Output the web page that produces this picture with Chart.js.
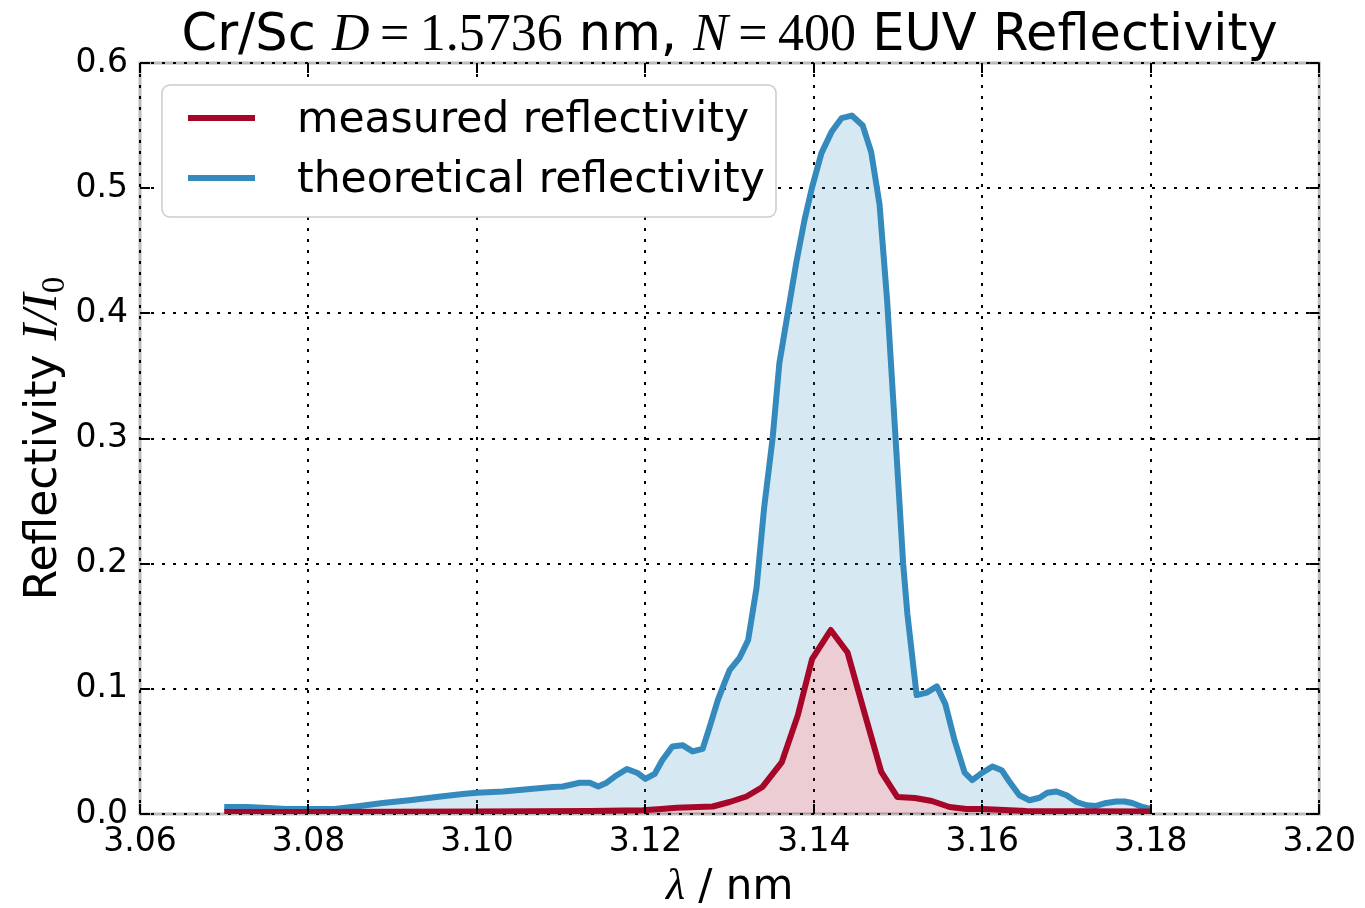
<!DOCTYPE html>
<html lang="en">
<head>
<meta charset="UTF-8">
<title>Cr/Sc EUV Reflectivity</title>
<script src="https://cdn.jsdelivr.net/npm/chart.js"></script>
<style>
  html, body { margin: 0; padding: 0; background: #fff; }
  #wrap { width: 1365px; height: 908px; position: relative; }
</style>
</head>
<body>
<div id="wrap"><canvas id="chart"></canvas></div>
<script>
// wavelength (nm) and reflectivity I/I0
const measuredLambda = [3.0700, 3.0802, 3.1000, 3.1134, 3.1197, 3.1219, 3.1237, 3.1280, 3.1300, 3.1320,
  3.1339, 3.1362, 3.1381, 3.1398, 3.1420, 3.1440, 3.1460, 3.1480, 3.1499, 3.1520,
  3.1540, 3.1561, 3.1581, 3.1600, 3.1652, 3.1712, 3.1800];
const measuredR = [0.0016, 0.0016, 0.0020, 0.0024, 0.0030, 0.0040, 0.0050, 0.0060, 0.0096, 0.0140,
  0.0216, 0.0415, 0.0790, 0.1240, 0.1470, 0.1290, 0.0810, 0.0336, 0.0136, 0.0128,
  0.0104, 0.0056, 0.0040, 0.0040, 0.0024, 0.0022, 0.0020];

const theoryLambda = [3.0700, 3.0727, 3.0746, 3.0774, 3.0802, 3.0831, 3.0861, 3.0888, 3.0920, 3.0952,
  3.0983, 3.1000, 3.1031, 3.1063, 3.1090, 3.1102, 3.1122, 3.1134, 3.1144, 3.1154,
  3.1166, 3.1178, 3.1190, 3.1200, 3.1211, 3.1220, 3.1232, 3.1244, 3.1256, 3.1268,
  3.1276, 3.1286, 3.1294, 3.1300, 3.1312, 3.1322, 3.1332, 3.1341, 3.1351, 3.1359,
  3.1369, 3.1379, 3.1389, 3.1398, 3.1409, 3.1421, 3.1433, 3.1445, 3.1458, 3.1468,
  3.1478, 3.1487, 3.1497, 3.1506, 3.1511, 3.1522, 3.1534, 3.1546, 3.1556, 3.1567,
  3.1579, 3.1588, 3.1600, 3.1612, 3.1623, 3.1632, 3.1644, 3.1656, 3.1668, 3.1677,
  3.1688, 3.1700, 3.1712, 3.1724, 3.1735, 3.1747, 3.1759, 3.1769, 3.1778, 3.1790,
  3.1800];
const theoryR = [0.0056, 0.0056, 0.0050, 0.0040, 0.0040, 0.0040, 0.0064, 0.0088, 0.0110, 0.0136,
  0.0160, 0.0170, 0.0180, 0.0200, 0.0216, 0.0220, 0.0250, 0.0250, 0.0220, 0.0250,
  0.0310, 0.0360, 0.0330, 0.0280, 0.0320, 0.0430, 0.0540, 0.0550, 0.0500, 0.0520,
  0.0690, 0.0910, 0.1050, 0.1150, 0.1250, 0.1390, 0.1810, 0.2450, 0.3000, 0.3600,
  0.4000, 0.4400, 0.4750, 0.5010, 0.5280, 0.5450, 0.5560, 0.5580, 0.5500, 0.5290,
  0.4870, 0.4100, 0.3000, 0.2000, 0.1600, 0.0950, 0.0970, 0.1020, 0.0880, 0.0590,
  0.0330, 0.0270, 0.0330, 0.0380, 0.0350, 0.0260, 0.0150, 0.0110, 0.0130, 0.0170,
  0.0180, 0.0150, 0.0096, 0.0070, 0.0064, 0.0088, 0.0100, 0.0100, 0.0088, 0.0056,
  0.0040];

const xTickValues = [3.06, 3.08, 3.10, 3.12, 3.14, 3.16, 3.18, 3.20];
const xTickLabels = ['3.06', '3.08', '3.10', '3.12', '3.14', '3.16', '3.18', '3.20'];
const yTickValues = [0.0, 0.1, 0.2, 0.3, 0.4, 0.5, 0.6];
const yTickLabels = ['0.0', '0.1', '0.2', '0.3', '0.4', '0.5', '0.6'];

const seriesNames = ['measured reflectivity', 'theoretical reflectivity'];

const RED = '#A60628';
const BLUE = '#348ABD';
const SANS = '"DejaVu Sans", sans-serif';
const SERIF = '"Liberation Serif", "DejaVu Serif", serif';
const LINE_W = 6;

function toPoints(xs, ys) {
  return xs.map((x, i) => ({ x: x, y: ys[i] }));
}

// draw a row of differently styled text pieces on one baseline
function drawRuns(ctx, runs, x, y, align) {
  let total = 0;
  runs.forEach(r => { ctx.font = r.font; r.w = ctx.measureText(r.text).width; total += r.w; });
  let cx = align === 'center' ? x - total / 2 : x;
  runs.forEach(r => {
    ctx.font = r.font;
    ctx.fillText(r.text, cx, y + (r.dy || 0));
    cx += r.w;
  });
}

const framePlugin = {
  id: 'frame',
  beforeDraw(chart) {
    const { ctx, chartArea: a } = chart;
    ctx.save();
    ctx.fillStyle = '#fff';
    ctx.fillRect(0, 0, chart.width, chart.height);
    ctx.strokeStyle = '#bcbcbc';
    ctx.lineWidth = 3;
    ctx.strokeRect(a.left, a.top, a.right - a.left, a.bottom - a.top);
    ctx.restore();
  },
  afterDatasetsDraw(chart) {
    const { ctx, chartArea: a, scales } = chart;
    ctx.save();
    // inward ticks on all four sides
    ctx.strokeStyle = '#000';
    ctx.lineWidth = 2;
    const len = 10;
    ctx.beginPath();
    scales.x.ticks.forEach(t => {
      const px = Math.round(scales.x.getPixelForValue(t.value));
      ctx.moveTo(px, a.bottom); ctx.lineTo(px, a.bottom - len);
      ctx.moveTo(px, a.top); ctx.lineTo(px, a.top + len);
    });
    scales.y.ticks.forEach(t => {
      const py = Math.round(scales.y.getPixelForValue(t.value));
      ctx.moveTo(a.left, py); ctx.lineTo(a.left + len, py);
      ctx.moveTo(a.right, py); ctx.lineTo(a.right - len, py);
    });
    ctx.stroke();
    ctx.restore();
  },
  afterDraw(chart) {
    const { ctx, chartArea: a } = chart;
    const midX = (a.left + a.right) / 2;
    const midY = (a.top + a.bottom) / 2;
    ctx.save();
    ctx.fillStyle = '#000';
    ctx.textBaseline = 'alphabetic';

    // title
    drawRuns(ctx, [
      { text: 'Cr/Sc ', font: '51px ' + SANS },
      { text: 'D', font: 'italic 52px ' + SERIF },
      { text: '\u2009=\u2009', font: '52px ' + SERIF },
      { text: '1.5736', font: '52px ' + SERIF },
      { text: ' nm, ', font: '51px ' + SANS },
      { text: 'N', font: 'italic 52px ' + SERIF },
      { text: '\u2009=\u2009', font: '52px ' + SERIF },
      { text: '400', font: '52px ' + SERIF },
      { text: ' EUV Reflectivity', font: '51px ' + SANS }
    ], midX, 50, 'center');

    // x axis label
    drawRuns(ctx, [
      { text: '\u03bb', font: 'italic 44px ' + SERIF },
      { text: ' / nm', font: '42px ' + SANS }
    ], midX, 899, 'center');

    // y axis label
    ctx.save();
    ctx.translate(56, midY);
    ctx.rotate(-Math.PI / 2);
    drawRuns(ctx, [
      { text: 'Reflectivity ', font: '44px ' + SANS },
      { text: 'I/I', font: 'italic 50px ' + SERIF },
      { text: '0', font: '33px ' + SERIF, dy: 8 }
    ], 0, 0, 'center');
    ctx.restore();

    // legend
    const bx = 162, by = 85, bw = 614, bh = 132;
    ctx.beginPath();
    ctx.roundRect(bx, by, bw, bh, 8);
    ctx.fillStyle = '#fff';
    ctx.fill();
    ctx.strokeStyle = '#cccccc';
    ctx.lineWidth = 1.5;
    ctx.stroke();
    ctx.font = '42.5px ' + SANS;
    ctx.textBaseline = 'middle';
    chart.data.datasets.forEach((ds, i) => {
      const y = 118 + i * 60;
      ctx.strokeStyle = ds.borderColor;
      ctx.lineWidth = LINE_W;
      ctx.beginPath();
      ctx.moveTo(188, y); ctx.lineTo(255, y);
      ctx.stroke();
      ctx.fillStyle = '#000';
      ctx.fillText(ds.label, 297, y + 3);
    });
    ctx.restore();
  }
};

new Chart(document.getElementById('chart'), {
  type: 'line',
  data: {
    datasets: [
      {
        label: seriesNames[0],
        data: toPoints(measuredLambda, measuredR),
        borderColor: RED,
        backgroundColor: 'rgba(166, 6, 40, 0.2)',
        borderWidth: LINE_W,
        borderJoinStyle: 'round',
        pointRadius: 0,
        tension: 0,
        fill: 'origin'
      },
      {
        label: seriesNames[1],
        data: toPoints(theoryLambda, theoryR),
        borderColor: BLUE,
        backgroundColor: 'rgba(52, 138, 189, 0.2)',
        borderWidth: LINE_W,
        borderJoinStyle: 'round',
        pointRadius: 0,
        tension: 0,
        fill: 0
      }
    ]
  },
  options: {
    responsive: true,
    maintainAspectRatio: false,
    animation: false,
    layout: { padding: { left: 0, right: 45, top: 63, bottom: 0 } },
    plugins: {
      legend: { display: false },
      title: { display: false },
      tooltip: { enabled: false }
    },
    scales: {
      x: {
        type: 'linear',
        min: 3.06,
        max: 3.20,
        afterBuildTicks: s => { s.ticks = xTickValues.map(v => ({ value: v })); },
        afterFit: s => { s.height = 94; },
        grid: { color: '#000', lineWidth: 2, drawTicks: false },
        border: { display: false, dash: [3, 8] },
        ticks: {
          padding: 9,
          maxRotation: 0,
          color: '#000',
          font: { family: SANS, size: 33 },
          callback: (v, i) => xTickLabels[i]
        }
      },
      y: {
        min: 0,
        max: 0.6,
        afterBuildTicks: s => { s.ticks = yTickValues.map(v => ({ value: v })); },
        afterFit: s => { s.width = 140; },
        grid: { color: '#000', lineWidth: 2, drawTicks: false },
        border: { display: false, dash: [3, 8] },
        ticks: {
          padding: 12,
          color: '#000',
          font: { family: SANS, size: 33 },
          callback: (v, i) => yTickLabels[i]
        }
      }
    }
  },
  plugins: [framePlugin]
});
</script>
</body>
</html>
